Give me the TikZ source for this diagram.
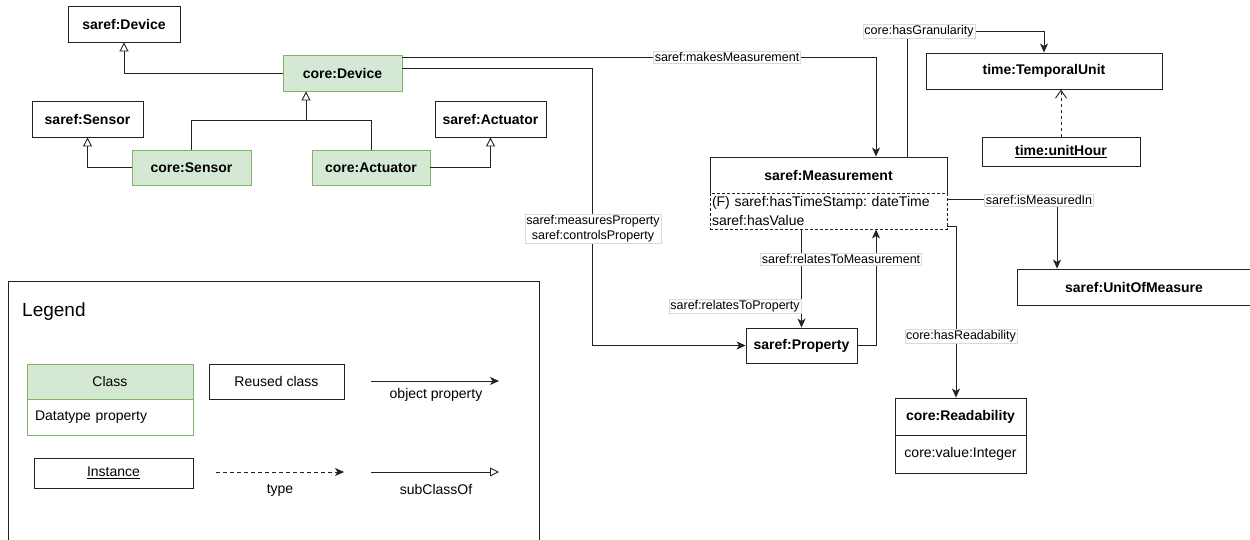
\documentclass[tikz,border=0pt]{standalone}
\usepackage{fontspec}
\setmainfont{Liberation Sans}
\usetikzlibrary{arrows.meta}
\definecolor{cgreen}{HTML}{D5E8D4}
\definecolor{cgreenb}{HTML}{82B366}
\definecolor{lineg}{HTML}{222222}
\begin{document}
\frenchspacing
\begin{tikzpicture}[x=1pt,y=-1pt,
  base/.style={draw=lineg, line width=0.9pt, inner sep=0pt, font=\bfseries\fontsize{14}{16}\selectfont, text=black},
  cls/.style={base, fill=cgreen, draw=cgreenb},
  reused/.style={base, fill=white},
  lbl/.style={fill=white, draw=black!15, line width=0.5pt, inner sep=1.2pt, font=\fontsize{12.5}{15}\selectfont},
  legtext/.style={inner sep=0pt, font=\fontsize{14}{16}\selectfont},
  conn/.style={draw=lineg, line width=0.9pt},
  objp/.style={conn, -{Stealth[length=9pt,width=8pt,inset=2.5pt]}},
  subc/.style={conn, -{Triangle[open,length=9pt,width=9pt,fill=white]}},
  typ/.style={conn, dash pattern=on 3pt off 3pt, -{Straight Barb[length=8pt,width=11pt]}},
]
\useasboundingbox (0,0) rectangle (1250,540);

% ---------- classes ----------
\node[reused, minimum width=112pt, minimum height=36pt] (sarefDevice) at (124,24) {saref:Device};
\node[cls, minimum width=119pt, minimum height=36pt] (coreDevice) at (342.5,73) {core:Device};
\node[reused, minimum width=111pt, minimum height=36pt] (sarefSensor) at (87.5,119) {saref:Sensor};
\node[cls, minimum width=119pt, minimum height=35pt] (coreSensor) at (191.5,167.5) {core:Sensor};
\node[cls, minimum width=118pt, minimum height=35pt] (coreActuator) at (371,167.5) {core:Actuator};
\node[reused, minimum width=111pt, minimum height=36pt] (sarefActuator) at (490.5,119) {saref:Actuator};

\node[reused, minimum width=237pt, minimum height=36pt] (measTitle) at (828.5,175) {saref:Measurement};
\node[base, fill=white, dash pattern=on 3pt off 2pt, font=\fontsize{14}{19}\selectfont, minimum width=237pt, minimum height=36pt, text width=233pt, inner xsep=2pt, align=left] (measAttr) at (828.5,211) {(F) saref:hasTimeStamp: dateTime\\saref:hasValue};
\node[reused, minimum width=111pt, minimum height=35pt] (property) at (801.5,345.5) {saref:Property};

\node[reused, minimum width=236pt, minimum height=36pt] (temporalUnit) at (1044,71) {time:TemporalUnit};
\node[reused, minimum width=158pt, minimum height=29pt] (unitHour) at (1061,151.5) {\underline{time:unitHour}};
\node[reused, minimum width=234pt, minimum height=36pt] (unitOfMeasure) at (1134,287) {saref:UnitOfMeasure};

\node[reused, minimum width=131pt, minimum height=37pt] (readTitle) at (960.5,416.5) {core:Readability};
\node[base, fill=white, font=\fontsize{14}{16}\selectfont, minimum width=131pt, minimum height=38pt] (readAttr) at (960.5,454) {core:value:Integer};

% ---------- bend coordinates ----------
\coordinate (sdA) at (124,73);
\coordinate (tree) at (306,120);
\coordinate (mmA) at (876,57);
\coordinate (mpA) at (592,68);
\coordinate (rmA) at (876,346);
\coordinate (hgA) at (907,31);
\coordinate (hgB) at (1044,31);
\coordinate (imA) at (1057,199);
\coordinate (hrA) at (956,226);

% ---------- subclass ----------
\draw[subc] (coreDevice.west) -- (sdA) -- (sarefDevice.south);
\draw[conn] (coreSensor.north) |- (tree);
\draw[conn] (coreActuator.north) |- (tree);
\draw[subc] (tree) -- (coreDevice.south -| tree);
\draw[subc] (coreSensor.west) -| (sarefSensor.south);
\draw[subc] (coreActuator.east) -| (sarefActuator.south);

% ---------- object properties ----------
\draw[objp] (coreDevice.east |- mmA) -- (mmA) -- (measTitle.north -| mmA);
\node[lbl] (lblMakes) at (727,57) {saref:makesMeasurement};

\draw[objp] (coreDevice.east |- mpA) -- (mpA) -- (mpA |- property.west) -- (property.west);
\node[lbl, align=center] (lblMeasures) at (593,229) {saref:measuresProperty\\saref:controlsProperty};

\draw[objp] (measAttr.south -| property.north) -- (property.north);
\node[lbl] (lblRelProp) at (735,306) {saref:relatesToProperty};

\draw[objp] (property.east) -- (property.east -| rmA) -- (rmA |- measAttr.south);
\node[lbl] (lblRelMeas) at (841,259) {saref:relatesToMeasurement};

\draw[objp] (measTitle.north -| hgA) -- (hgA) -- (hgB) -- (temporalUnit.north);
\node[lbl] (lblGran) at (919,31) {core:hasGranularity};

\draw[typ] (unitHour.north) -- (temporalUnit.south -| unitHour.north);

\draw[objp] (measAttr.east |- imA) -- (imA) -- (unitOfMeasure.north -| imA);
\node[lbl] (lblUnit) at (1039,200) {saref:isMeasuredIn};

\draw[objp] (measAttr.east |- hrA) -- (hrA) -- (readTitle.north -| hrA);
\node[lbl] (lblRead) at (961,336) {core:hasReadability};

% ---------- legend ----------
\draw[draw=lineg, line width=0.9pt] (8,281) rectangle (539,560);
\node[anchor=west, inner sep=0pt, font=\fontsize{19}{22}\selectfont] (legTitle) at (22,312) {Legend};

\node[base, fill=cgreen, draw=cgreenb, font=\fontsize{14}{16}\selectfont, minimum width=166pt, minimum height=35pt] (legClass) at (110,381.5) {Class};
\node[base, fill=white, draw=cgreenb, font=\fontsize{14}{16}\selectfont, minimum width=166pt, minimum height=36pt, text width=150pt, inner xsep=8pt, align=left] (legDatatype) at (110,417) {Datatype property};
\node[reused, font=\fontsize{14}{16}\selectfont, minimum width=135pt, minimum height=35pt] (legReused) at (276.5,381.5) {Reused class};
\node[reused, font=\fontsize{14}{16}\selectfont, minimum width=159pt, minimum height=30pt] (legInstance) at (113.5,473) {\underline{Instance}};

\coordinate (opA) at (371,381);
\coordinate (opB) at (499,381);
\draw[objp] (opA) -- (opB);
\node[legtext] (legObj) at (436,395) {object property};

\coordinate (tyA) at (216,472);
\coordinate (tyB) at (344,472);
\draw[conn, dash pattern=on 4pt off 3pt, -{Stealth[length=9pt,width=8pt,inset=2.5pt]}] (tyA) -- (tyB);
\node[legtext] (legType) at (280,490) {type};

\coordinate (scA) at (371,472);
\coordinate (scB) at (499,472);
\draw[subc] (scA) -- (scB);
\node[legtext] (legSub) at (436,489) {subClassOf};
\end{tikzpicture}
\end{document}
